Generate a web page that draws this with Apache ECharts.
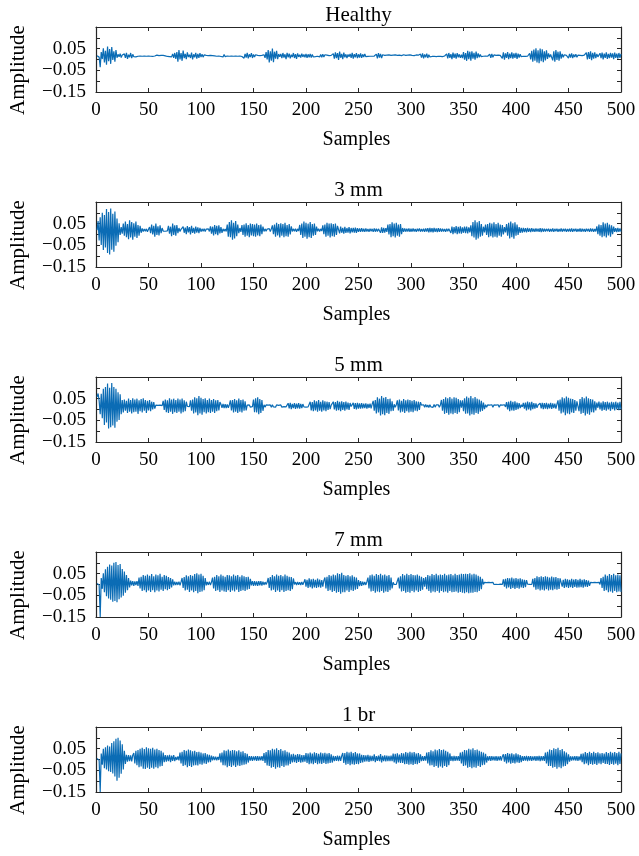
<!DOCTYPE html>
<html>
<head>
<meta charset="utf-8">
<script src="https://cdn.jsdelivr.net/npm/echarts@6/dist/echarts.min.js"></script>
<style>
  html, body { margin: 0; padding: 0; background: #fff; }
  #chart { width: 639px; height: 856px; }
</style>
</head>
<body>
<div id="chart"></div>
<script>
// Vibration records, one panel per bearing condition.
const panelTitles = ['Healthy', '3 mm', '5 mm', '7 mm', '1 br'];
const xLabel = 'Samples';
const yLabel = 'Amplitude';
const yTickValues = [-0.15, -0.05, 0.05];
const yTickLabels = ['\u22120.15', '\u22120.05', '0.05'];

// Amplitudes in thousandths, samples 1..500
const healthy = [
  17,23,11,-36,34,2,52,-14,40,-24,60,-8,48,-20,57,-2,38,-10,44,8,24,12,27,9,21,
  14,26,8,31,3,22,10,30,6,24,13,22,12,20,15,19,16,18,15,19,16,18,15,19,16,
  18,15,20,14,18,16,17,20,14,18,16,19,15,19,16,17,19,14,21,13,22,12,26,8,30,
  3,34,-10,44,0,30,-6,41,6,26,2,33,11,22,7,32,1,24,10,31,4,26,8,29,11,
  24,11,21,14,19,15,18,16,19,15,18,16,17,19,15,18,16,20,14,21,12,23,13,19,16,
  18,15,19,16,18,15,19,16,18,15,19,16,18,14,23,6,26,9,31,5,24,11,29,7,23,
  12,22,13,19,15,18,16,19,14,22,8,34,0,44,-14,38,-6,50,-12,36,4,40,2,25,12,
  26,6,30,9,24,2,31,10,27,5,22,11,30,7,25,3,28,12,22,9,27,12,23,10,26,
  8,24,10,26,9,23,12,21,13,20,15,19,12,23,10,24,11,22,13,20,15,18,16,19,15,
  27,4,33,6,30,-2,36,8,26,2,32,10,24,6,23,13,26,8,31,4,25,10,29,6,24,
  9,28,8,24,11,26,13,21,14,20,15,18,15,19,16,18,25,5,29,9,26,7,22,13,19,
  15,20,13,21,14,19,15,20,13,21,15,19,14,20,15,18,13,22,14,19,16,20,13,21,15,
  19,16,18,14,21,13,20,15,25,9,28,5,23,10,27,7,22,12,20,14,19,15,20,13,21,
  15,19,14,21,13,20,16,18,26,5,30,8,25,2,32,7,27,4,29,10,24,8,22,6,34,
  -1,30,-6,40,2,36,-5,38,4,31,-1,37,6,28,10,23,13,20,15,18,16,19,15,18,25,
  8,26,10,21,14,19,15,20,14,19,27,5,33,-1,28,7,34,2,27,6,33,4,28,8,31,
  3,27,9,24,13,20,15,19,14,20,15,18,28,0,40,-10,46,-6,52,-14,42,-17,50,-8,47,
  -12,38,-4,42,3,28,10,23,32,-4,38,-10,44,-2,36,-6,38,4,26,10,22,13,19,27,6,
  26,9,28,6,23,11,25,10,20,15,19,16,18,14,20,15,32,0,34,3,38,-3,31,4,33,
  6,26,12,21,29,6,32,1,27,8,33,3,26,6,31,9,28,2,32,7,27,4,30,8,26
];

const fault3mm = [
  20,62,-28,80,-48,100,-72,90,-60,118,-85,104,-92,120,-70,96,-80,106,-52,74,-36,52,-2,34,4,
  50,-6,60,-12,48,-22,66,-14,58,-24,52,-10,60,-16,44,-6,40,8,28,14,25,15,26,13,24,
  34,6,46,0,40,-10,50,-2,38,-4,42,6,30,16,25,15,24,17,40,4,36,-8,50,-2,42,
  -6,44,6,30,14,24,16,36,8,32,2,39,10,34,0,40,7,31,4,37,9,33,6,31,13,
  26,15,27,14,25,17,26,14,38,4,36,-4,44,2,40,-3,42,5,34,8,26,15,25,14,46,
  -10,58,-12,66,-24,54,-18,62,-8,46,6,30,12,44,-2,46,-10,52,-6,44,-12,50,-4,48,-8,
  46,-10,50,-4,44,-8,46,2,36,14,26,15,25,16,27,14,26,42,2,46,-10,54,-4,48,-14,
  52,-6,48,-12,54,-8,44,-10,48,0,38,14,26,15,27,13,26,16,44,-2,50,-16,60,-10,54,
  -20,50,-12,58,-16,48,-6,50,-2,36,15,27,14,26,16,42,2,46,-10,54,-6,50,-14,52,-8,
  48,-10,50,-2,40,33,5,36,8,31,4,35,7,30,9,34,5,30,10,31,9,32,7,29,12,
  28,12,29,13,27,12,28,14,26,13,27,15,26,12,28,13,27,14,26,32,8,33,7,31,9,
  29,12,46,0,48,-12,56,-8,50,-14,54,-6,46,-10,48,2,30,12,28,13,27,14,28,12,27,
  13,28,14,26,12,27,15,28,13,26,14,27,12,28,13,29,10,30,11,29,10,30,12,28,11,
  29,12,28,13,27,14,26,13,27,15,26,33,7,36,2,34,6,39,1,35,5,38,4,33,8,
  36,6,37,5,33,10,42,-8,58,-14,66,-24,56,-18,62,-10,48,-6,36,10,46,-2,48,-12,54,
  -8,50,-14,56,-10,48,-14,54,-6,46,-10,44,0,34,10,48,-6,54,-18,60,-12,52,-20,56,-6,
  46,-2,34,8,31,9,30,11,29,10,30,12,28,11,29,13,27,12,28,14,27,12,29,11,28,
  13,27,14,26,15,27,13,26,14,28,12,26,15,27,13,25,14,28,13,26,15,27,12,26,14,
  27,13,28,12,26,15,27,13,25,14,28,12,27,14,26,13,27,15,26,12,28,14,27,13,26,
  14,38,2,46,-6,44,-12,56,-8,50,-14,54,-4,46,-10,42,2,36,12,29,11,30,12,28,13
];

const fault5mm = [
  58,74,40,-22,72,-40,96,-72,104,-60,120,-88,100,-82,122,-74,104,-84,96,-56,80,-48,70,-22,44,
  -14,46,-6,40,-16,50,-10,44,-18,52,-12,46,-10,50,-20,42,-8,48,-14,52,-6,44,-16,40,-4,
  44,-8,36,0,34,4,20,12,19,13,20,14,18,40,-2,46,-12,42,-16,52,-10,46,-20,50,-12,
  44,-16,50,-10,46,-18,50,-12,42,-8,36,14,19,13,42,-6,46,-18,56,-14,52,-26,62,-18,54,
  -24,48,-12,52,-18,44,-12,50,-16,44,-10,48,-16,42,-8,44,-4,34,24,8,26,6,25,7,24,
  8,22,42,-4,44,-14,48,-10,42,-16,50,-10,44,-14,46,-6,38,-4,20,12,21,11,19,13,46,
  -12,52,-14,56,-22,48,-16,44,-6,22,11,21,12,20,13,21,10,22,12,20,11,21,13,19,12,
  21,11,20,13,21,12,20,29,5,31,2,26,6,30,3,27,5,29,4,26,7,25,12,21,11,
  20,12,21,36,-4,34,-8,42,-4,38,-10,44,-6,36,-10,42,-4,38,-8,36,-2,34,2,20,12,
  36,0,34,-6,40,-3,35,-8,38,-2,34,-6,37,0,32,-2,30,14,19,31,3,29,0,31,4,
  28,4,29,5,27,6,28,4,26,7,27,5,25,40,-6,44,-18,56,-14,50,-28,62,-22,54,-26,
  58,-16,48,-20,50,-8,38,-6,24,10,22,42,-4,46,-14,40,-10,48,-16,42,-8,46,-14,44,-10,
  40,-12,44,-6,38,-8,36,-2,34,20,12,22,10,23,11,21,9,22,12,20,10,23,11,21,12,
  22,10,21,44,-6,48,-20,56,-16,52,-24,58,-18,50,-22,56,-16,54,-20,48,-12,42,8,42,-8,
  52,-20,60,-18,54,-28,62,-22,52,-24,58,-16,50,-20,46,-10,40,-6,32,2,22,10,21,12,20,
  11,22,10,21,12,20,11,22,10,21,12,20,11,22,12,34,0,36,-8,40,-4,36,-6,38,-2,
  32,2,30,6,22,12,31,4,32,-4,37,0,33,-4,35,2,30,4,28,8,21,12,29,5,31,
  2,30,4,31,2,27,5,31,3,28,6,27,4,25,42,-6,46,-18,56,-14,52,-26,60,-18,54,
  -22,50,-14,48,-16,44,-6,38,44,-8,48,-20,58,-16,52,-28,60,-20,52,-24,48,-12,46,-14,38,
  -4,32,8,36,0,32,-6,38,-2,34,-5,36,0,32,-6,35,2,33,-4,36,0,32,-3,35,0
];

const fault7mm = [
  5,12,-2,-150,30,-20,52,-36,70,-54,82,-64,92,-70,88,-80,100,-76,104,-82,90,-68,94,-60,72,
  -52,60,-38,44,-26,30,-14,18,-4,15,-6,14,-3,16,-6,32,-18,36,-30,44,-26,40,-36,46,-28,
  40,-34,48,-26,38,-36,46,-28,42,-32,50,-24,36,-30,44,-22,40,-26,34,-20,30,-14,24,-4,13,
  -3,12,-2,13,-4,12,30,-16,34,-28,42,-24,38,-34,44,-28,40,-36,48,-30,52,-40,46,-34,50,
  -32,40,-26,30,-4,12,-2,13,-3,11,32,-18,36,-30,44,-26,38,-34,46,-28,40,-32,36,-34,44,
  -26,42,-34,38,-28,46,-32,40,-24,44,-34,36,-30,42,-26,38,-30,34,-24,36,-20,26,-4,16,-6,
  15,-5,14,-6,16,-4,15,-5,13,-2,11,0,10,30,-16,34,-28,44,-24,38,-34,46,-28,40,-34,
  44,-26,38,-34,46,-30,40,-26,36,-30,34,-22,28,0,11,-2,12,-1,11,-3,12,-1,10,24,-10,
  22,-16,28,-12,24,-18,26,-13,22,-16,27,-12,23,-15,20,-10,18,32,-18,36,-30,44,-26,40,-34,
  46,-30,42,-38,52,-34,48,-42,54,-36,44,-36,40,-28,44,-34,38,-26,42,-30,36,-24,32,-20,20,
  -8,16,-6,13,-3,12,-2,13,32,-18,42,-32,46,-30,40,-38,48,-32,44,-36,50,-30,42,-38,46,
  -32,40,-34,44,-26,32,-18,10,0,9,1,10,32,-18,38,-32,48,-30,42,-38,50,-34,44,-38,48,
  -30,44,-36,42,-28,46,-34,40,-30,36,-24,30,-10,34,-22,44,-30,40,-38,48,-32,44,-36,50,-30,
  42,-38,46,-30,44,-36,50,-32,42,-38,46,-30,48,-36,42,-34,50,-32,44,-38,46,-34,50,-38,48,
  -40,50,-36,48,-40,52,-38,46,-38,50,-34,46,-36,40,-30,36,-22,26,0,10,1,9,0,10,1,
  9,2,10,0,9,1,10,0,9,2,10,1,24,-10,26,-18,30,-14,28,-20,32,-16,27,-21,30,
  -16,26,-19,29,-14,24,-16,22,-12,20,2,9,1,10,0,26,-12,30,-24,38,-22,34,-28,38,-24,
  34,-28,38,-22,36,-27,32,-24,37,-26,33,-22,34,-24,30,-20,28,24,-10,22,-16,26,-12,24,-16,
  22,-12,26,-16,23,-11,25,-15,21,-13,26,-12,22,-15,24,-10,20,-11,18,-6,10,1,9,0,10,
  1,9,2,10,0,30,-16,36,-30,46,-26,40,-36,48,-32,44,-38,50,-30,42,-36,46,-32,42,-34
];

const fault1br = [
  5,14,-4,-150,28,-24,50,-40,56,-46,64,-54,60,-58,76,-64,84,-78,96,-98,100,-84,88,-66,70,
  -46,40,-20,22,-10,20,-8,19,-9,20,30,-18,40,-26,44,-36,50,-32,54,-42,48,-44,56,-38,52,
  -44,50,-38,54,-42,46,-36,50,-40,44,-32,40,-30,32,-12,20,-10,19,-8,22,-12,18,-6,20,-8,
  12,-2,14,-4,32,-18,36,-30,44,-26,40,-36,46,-30,42,-34,38,-28,40,-26,34,-28,36,-22,32,
  -24,28,-18,30,-20,24,-14,22,-12,18,-4,14,-3,13,-4,12,-2,28,-14,32,-26,42,-28,40,-36,
  46,-30,40,-34,44,-28,42,-34,38,-28,42,-30,36,-26,38,-24,30,-22,26,-14,16,-5,15,-6,14,
  -4,16,-6,15,-5,14,-4,16,-6,30,-16,34,-28,44,-30,42,-38,50,-34,46,-42,52,-36,44,-38,
  48,-30,40,-34,42,-28,36,-28,32,-20,24,-14,26,-12,22,-16,25,-11,24,-15,20,-12,20,-10,30,
  -16,28,-22,32,-18,27,-22,33,-16,30,-22,26,-18,32,-20,28,-16,31,-21,27,-18,30,-16,24,-14,
  17,-7,16,-6,18,-8,17,-6,16,30,-16,30,-24,36,-20,32,-26,36,-22,30,-24,34,-20,28,-22,
  28,-16,22,-14,20,-10,19,-9,21,-11,18,-8,17,-7,24,-12,16,-6,18,-8,25,-13,17,-7,19,
  -9,18,-8,17,-7,18,-8,27,-14,26,-19,28,-14,23,-16,30,-16,28,-22,34,-20,31,-24,36,-22,
  32,-25,34,-20,28,-22,30,-16,24,-8,16,-6,15,-5,32,-18,34,-28,42,-26,38,-34,46,-30,42,
  -38,48,-32,44,-38,46,-30,40,-34,36,-26,28,-6,16,-7,17,-6,15,-5,16,-6,32,-18,36,-30,
  44,-28,42,-38,50,-34,46,-40,52,-36,44,-38,46,-30,40,-34,36,-26,32,-24,26,-14,15,-5,16,
  -6,15,-4,14,-5,16,-6,14,-4,15,-5,14,24,-10,25,-18,30,-14,26,-19,29,-16,24,-18,28,
  -14,24,-16,20,-12,16,-6,15,-5,17,-7,15,-5,16,-6,14,-4,16,-6,15,-5,17,-7,15,-5,
  16,-6,32,-18,36,-30,46,-30,44,-38,52,-34,48,-42,54,-36,44,-40,48,-32,38,-30,32,-22,24,
  -10,15,-5,14,-4,15,-5,16,-6,14,-4,26,-12,28,-22,34,-18,30,-26,36,-20,30,-24,35,-20,
  30,-25,33,-18,28,-22,30,-16,27,-21,34,-20,30,-25,36,-20,31,-24,34,-19,30,-26,35,-20,28
];

const panelData = [healthy, fault3mm, fault5mm, fault7mm, fault1br];

// Panel geometry
const plotLeft = 96, plotWidth = 525, plotHeight = 65, firstTop = 27, panelStep = 175;
const axisColor = '#262626';
const lineColor = '#0B6CB5';
const serif = '"Liberation Serif", "DejaVu Serif", serif';

function yLabelFormatter(v) {
  const idx = yTickValues.findIndex(t => Math.abs(t - v) < 1e-6);
  return idx >= 0 ? yTickLabels[idx] : '';
}

const grids = [], xAxes = [], yAxes = [], series = [], graphics = [];
panelData.forEach((values, k) => {
  const top = firstTop + panelStep * k;
  grids.push({ left: plotLeft, top: top, width: plotWidth, height: plotHeight });
  const boxLine = { show: true, onZero: false, lineStyle: { color: axisColor, width: 1.2 } };
  const tick = { show: true, inside: true, length: 4, lineStyle: { color: axisColor, width: 1 } };
  xAxes.push({
    gridIndex: k, type: 'value', position: 'bottom', min: 0, max: 500, interval: 50,
    axisLine: boxLine, axisTick: tick, splitLine: { show: false },
    axisLabel: { color: '#000', fontFamily: serif, fontSize: 19, margin: 9 }
  });
  xAxes.push({
    gridIndex: k, type: 'value', position: 'top', min: 0, max: 500, interval: 50,
    axisLine: boxLine, axisTick: tick, splitLine: { show: false }, axisLabel: { show: false }
  });
  yAxes.push({
    gridIndex: k, type: 'value', position: 'left', min: -0.15, max: 0.15, interval: 0.05,
    axisLine: boxLine, axisTick: tick, splitLine: { show: false },
    axisLabel: { color: '#000', fontFamily: serif, fontSize: 19, margin: 10, formatter: yLabelFormatter }
  });
  yAxes.push({
    gridIndex: k, type: 'value', position: 'right', min: -0.15, max: 0.15, interval: 0.05,
    axisLine: boxLine, axisTick: tick, splitLine: { show: false }, axisLabel: { show: false }
  });
  series.push({
    type: 'line', xAxisIndex: 2 * k, yAxisIndex: 2 * k,
    data: values.map((v, i) => [i + 1, v / 1000]),
    showSymbol: false, symbol: 'none', clip: true, sampling: null,
    lineStyle: { color: lineColor, width: 1.2, join: 'bevel' }
  });
  graphics.push({
    type: 'text', x: plotLeft + plotWidth / 2, y: top - 12,
    style: { text: panelTitles[k], font: '21px ' + serif, fill: '#000', textAlign: 'center', textVerticalAlign: 'middle' }
  });
  graphics.push({
    type: 'text', x: plotLeft + plotWidth / 2 - 2, y: top + 113,
    style: { text: xLabel, font: '20px ' + serif, fill: '#000', textAlign: 'center', textVerticalAlign: 'middle' }
  });
  graphics.push({
    type: 'text', x: 18, y: top + 43, rotation: Math.PI / 2,
    style: { text: yLabel, font: '21px ' + serif, fill: '#000', textAlign: 'center', textVerticalAlign: 'middle' }
  });
});

const chart = echarts.init(document.getElementById('chart'), null, { renderer: 'canvas' });
chart.setOption({
  backgroundColor: '#fff',
  animation: false,
  grid: grids,
  xAxis: xAxes,
  yAxis: yAxes,
  series: series,
  graphic: graphics
});
</script>
</body>
</html>
